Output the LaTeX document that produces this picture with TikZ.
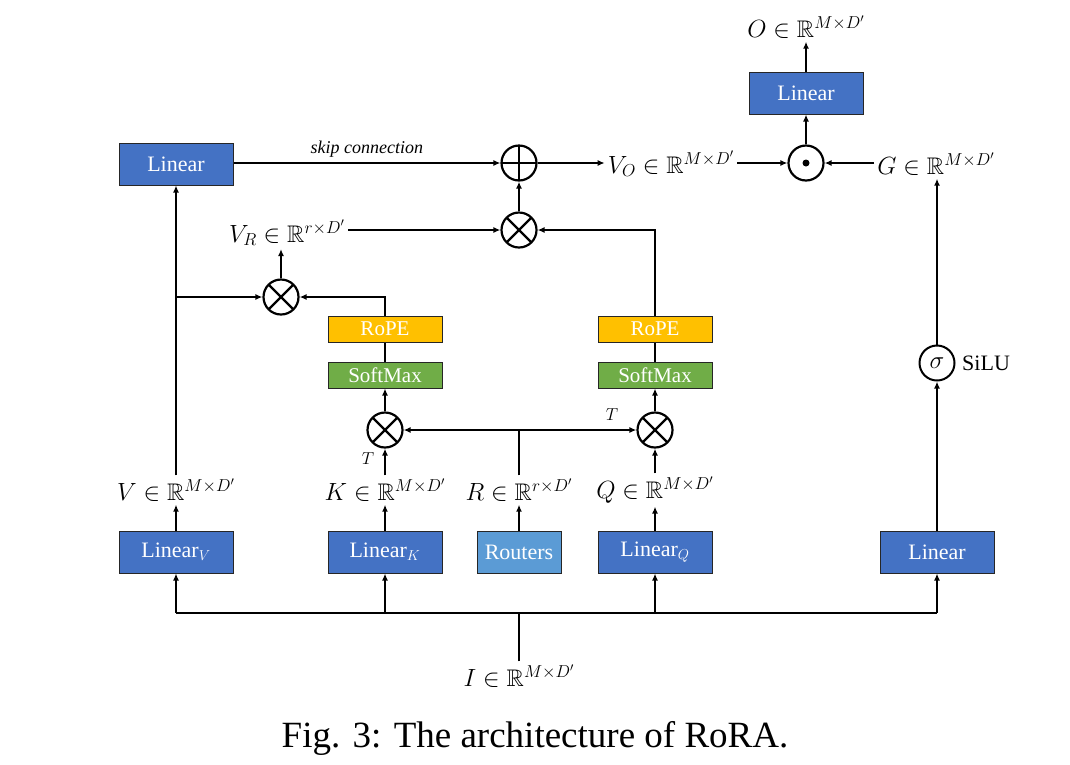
\documentclass[tikz,border=0pt]{standalone}
\usepackage{amssymb}
\usepackage{fontspec}
\setmainfont{Liberation Serif}
\usetikzlibrary{arrows.meta}
\definecolor{linblue}{HTML}{4472C4}
\definecolor{routblue}{HTML}{5B9BD5}
\definecolor{ropeyel}{HTML}{FFC000}
\definecolor{smgreen}{HTML}{70AD47}
\begin{document}
\begin{tikzpicture}[x=1pt,y=-1pt,
  box/.style={draw=black!85, line width=1pt, minimum width=114pt, minimum height=42pt, text=white, font=\fontsize{22}{24}\selectfont, inner sep=0pt},
  lin/.style={box, fill=linblue},
  thin box/.style={box, minimum height=26pt, font=\fontsize{21}{22}\selectfont},
  op/.style={circle, draw, line width=2.2pt, minimum size=35pt, inner sep=0pt},
  otimes/.style={op, path picture={\draw[line width=2.2pt] (path picture bounding box.north west) -- (path picture bounding box.south east) (path picture bounding box.north east) -- (path picture bounding box.south west);}},
  oplus/.style={op, path picture={\draw[line width=2.2pt] (path picture bounding box.north) -- (path picture bounding box.south) (path picture bounding box.east) -- (path picture bounding box.west);}},
  odot/.style={op, path picture={\fill (path picture bounding box.center) circle (3.5pt);}},
  arr/.style={-{Latex[length=7pt,width=6pt]}, line width=1.5pt},
  barr/.style={{Latex[length=7pt,width=6pt]}-{Latex[length=7pt,width=6pt]}, line width=1.5pt},
  ln/.style={line width=1.5pt},
  lbl/.style={font=\fontsize{24}{26}\selectfont, inner sep=3pt},
  small/.style={font=\fontsize{16}{18}\selectfont, inner sep=1pt}]
\useasboundingbox (0,0) rectangle (1070,764);

% bottom row boxes
\node[lin] (linV) at (176,552) {Linear$_V$};
\node[lin] (linK) at (385,552) {Linear$_K$};
\node[box, fill=routblue, minimum width=84pt] (rout) at (519,552) {Routers};
\node[lin] (linQ) at (655,552) {Linear$_Q$};
\node[lin] (linR) at (937,552) {Linear};

% labels above the bottom row
\node[lbl] (Vl) at (176,490) {$V \in \mathbb{R}^{M\times D'}$};
\node[lbl] (Kl) at (385,490) {$K \in \mathbb{R}^{M\times D'}$};
\node[lbl] (Rl) at (519,490) {$R \in \mathbb{R}^{r\times D'}$};
\node[lbl] (Ql) at (655,490) {$Q \in \mathbb{R}^{M\times D'}$};
\node[lbl] (Il) at (519,676) {$I \in \mathbb{R}^{M\times D'}$};

% attention stacks
\node[otimes] (mK) at (385,430) {};
\node[otimes] (mQ) at (655,430) {};
\node[thin box, fill=smgreen] (smK) at (385,375) {SoftMax};
\node[thin box, fill=ropeyel] (rpK) at (385,329) {RoPE};
\node[thin box, fill=smgreen] (smQ) at (655,375) {SoftMax};
\node[thin box, fill=ropeyel] (rpQ) at (655,329) {RoPE};
\node[small] (TK) at (368,459) {$T$};
\node[small] (TQ) at (612,415) {$T$};

% upper part
\node[otimes] (m1) at (281,297) {};
\node[lbl] (VR) at (287,233) {$V_R \in \mathbb{R}^{r\times D'}$};
\node[otimes] (m2) at (519,230) {};
\node[oplus] (pl) at (519,163) {};
\node[lin] (linL) at (176,164) {Linear};
\node[lbl] (VO) at (671,164) {$V_O \in \mathbb{R}^{M\times D'}$};
\node[odot] (dt) at (806,163) {};
\node[lbl] (Gl) at (936,164) {$G \in \mathbb{R}^{M\times D'}$};
\node[lin] (linT) at (806,93) {Linear};
\node[lbl] (Ol) at (806,27) {$O \in \mathbb{R}^{M\times D'}$};
\node[op, line width=2pt] (sg) at (937,363) {\fontsize{24}{24}\selectfont$\sigma$};
\node[font=\fontsize{22}{24}\selectfont, anchor=west, inner sep=0pt] (silu) at (962,363) {SiLU};

% caption
\node[font=\fontsize{37}{40}\selectfont] (cap) at (535,738) {Fig. 3: The architecture of RoRA.};

% input bus
\coordinate (bus) at (519,613);
\draw[ln] (linV.south |- bus) -- (linR.south |- bus);
\draw[ln] (Il.north) -- (bus);
\draw[arr] (linV.south |- bus) -- (linV.south);
\draw[arr] (linK.south |- bus) -- (linK.south);
\draw[arr] (linQ.south |- bus) -- (linQ.south);
\draw[arr] (linR.south |- bus) -- (linR.south);

% boxes to labels
\draw[arr] (linV.north) -- (linV.north |- Vl.south);
\draw[arr] (linK.north) -- (linK.north |- Kl.south);
\draw[arr] (rout.north) -- (rout.north |- Rl.south);
\draw[arr] (linQ.north) -- (linQ.north |- Ql.south);

% K / Q branches
\draw[arr] (Kl.north -| mK.south) -- (mK.south);
\draw[arr] (Ql.north -| mQ.south) -- (mQ.south);
\draw[barr] (mK.east) -- (mQ.west);
\draw[ln] (Rl.north -| rout.north) -- (rout.north |- mK.east);
\draw[arr] (mK.north) -- (smK.south);
\draw[arr] (mQ.north) -- (smQ.south);
\draw[ln] (smK.north) -- (rpK.south);
\draw[ln] (smQ.north) -- (rpQ.south);

% V branch
\draw[arr] (Vl.north -| linL.south) -- (linL.south);
\draw[arr] (linL.south |- m1.west) -- (m1.west);
\draw[arr] (rpK.north) |- (m1.east);
\draw[arr] (m1.north) -- (m1.north |- VR.south);
\draw[arr] (m2.west -| VR.east) -- (m2.west);
\draw[arr] (rpQ.north) |- (m2.east);
\draw[arr] (m2.north) -- (pl.south);
\draw[arr] (linL.east |- pl.west) -- node[above, font=\itshape\fontsize{18}{20}\selectfont, inner sep=5pt] {skip connection} (pl.west);
\draw[arr] (pl.east) -- (pl.east -| VO.west);
\draw[arr] (dt.west -| VO.east) -- (dt.west);
\draw[arr] (dt.east -| Gl.west) -- (dt.east);
\draw[arr] (dt.north) -- (linT.south);
\draw[arr] (linT.north) -- (linT.north |- Ol.south);

% gate branch
\draw[arr] (linR.north) -- (sg.south);
\draw[arr] (sg.north) -- (sg.north |- Gl.south);
\end{tikzpicture}
\end{document}
